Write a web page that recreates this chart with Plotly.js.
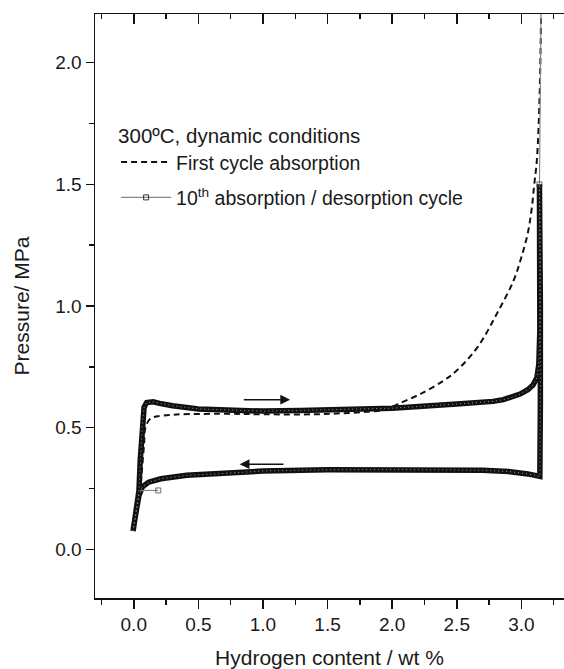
<!DOCTYPE html>
<html>
<head>
<meta charset="utf-8">
<script src="https://cdn.plot.ly/plotly-3.0.1.min.js"></script>
<style>html,body{margin:0;padding:0;background:#fff;}#chart{width:564px;height:669px;}</style>
</head>
<body>
<div id="chart"></div>
<script>
// First cycle absorption (dashed)
var firstX = [0.02, 0.05, 0.065, 0.08, 0.09, 0.13, 0.23, 0.67, 1.0, 1.4, 1.6, 1.8, 1.94, 2.04, 2.22, 2.40, 2.50, 2.66, 2.81, 2.94, 3.0, 3.05, 3.08, 3.10, 3.12, 3.14, 3.155];
var firstY = [0.15, 0.25, 0.338, 0.434, 0.50, 0.537, 0.55, 0.557, 0.555, 0.555, 0.559, 0.565, 0.573, 0.596, 0.639, 0.694, 0.735, 0.83, 0.968, 1.105, 1.2, 1.3, 1.4, 1.5, 1.6, 1.84, 2.3];

// 10th absorption / desorption cycle (dense markers -> thick band)
var cycX = [-0.005, 0.0, 0.013, 0.04, 0.05, 0.065, 0.08, 0.1, 0.15, 0.2, 0.3, 0.5, 0.8, 1.0, 1.29, 1.5, 2.0, 2.5, 2.68, 2.78, 2.86, 2.93, 2.99, 3.05, 3.09, 3.12, 3.135, 3.143, 3.145, 3.14,
            3.145, 3.147, 3.147, 3.143, 3.05, 2.9, 2.7, 2.0, 1.5, 1.0, 0.67, 0.41, 0.21, 0.115, 0.065, 0.04, 0.02, 0.0, -0.005];
var cycY = [0.075, 0.09, 0.13, 0.24, 0.365, 0.50, 0.585, 0.603, 0.606, 0.6, 0.59, 0.577, 0.57, 0.568, 0.571, 0.573, 0.58, 0.597, 0.603, 0.608, 0.615, 0.625, 0.638, 0.656, 0.675, 0.705, 0.76, 0.9, 1.2, 1.5,
            1.45, 1.0, 0.6, 0.30, 0.31, 0.32, 0.325, 0.328, 0.327, 0.322, 0.311, 0.304, 0.29, 0.276, 0.256, 0.22, 0.16, 0.107, 0.08];

// thin connecting segments of the 10th cycle (grey line)
var thinX = [3.14, 3.155, null, 0.05, 0.19];
var thinY = [1.5, 2.4, null, 0.242, 0.242];
var thinSize = [5, 0, 0, 0, 5];

var legendTitle = '300ºC, dynamic conditions';
var nameFirst = 'First cycle absorption';
var nameTenth = '10<sup>th</sup> absorption / desorption cycle';

var fontFam = '"Liberation Sans", Arial, sans-serif';
var ink = '#1a1a1a';

var traces = [
  {x: firstX, y: firstY, mode: 'lines', name: nameFirst, legendgroup: 'a',
   line: {color: '#111', width: 2, dash: '6px,4px', shape: 'spline', smoothing: 1}},
  {x: cycX, y: cycY, mode: 'lines', showlegend: false,
   line: {color: '#111', width: 5.5}},
  {x: cycX, y: cycY, mode: 'lines', showlegend: false,
   line: {color: '#9a9a9a', width: 1, dash: '1px,3px'}},
  {x: thinX, y: thinY, mode: 'lines+markers', showlegend: false,
   line: {color: '#888', width: 1.2},
   marker: {symbol: 'square-open', size: thinSize, color: '#333', line: {width: 1}}},
  {x: [null], y: [null], xaxis: 'x2', mode: 'lines+markers', name: nameTenth, legendgroup: 'b',
   line: {color: '#888', width: 1.2},
   marker: {symbol: 'square-open', size: 5, color: '#333', line: {width: 1}}}
];

var xr = [-0.3, 3.33];
var layout = {
  width: 564, height: 669,
  margin: {l: 95, r: 0, t: 14, b: 71},
  paper_bgcolor: '#fff', plot_bgcolor: '#fff',
  font: {family: fontFam, color: ink, size: 19},
  showlegend: true,
  legend: {
    x: 0.045, xanchor: 'left', y: 0.825, yanchor: 'top',
    bgcolor: 'rgba(0,0,0,0)', borderwidth: 0,
    font: {family: fontFam, size: 19.5, color: ink},
    title: {text: legendTitle, font: {family: fontFam, size: 20.5, color: ink}},
    itemwidth: 50, traceorder: 'grouped', tracegroupgap: 7
  },
  xaxis: {
    range: xr, showline: true, linecolor: '#111', linewidth: 1.5,
    ticks: 'outside', ticklen: 9, tickwidth: 1.5, tickcolor: '#111',
    tick0: 0, dtick: 0.5, tickformat: '.1f',
    minor: {ticks: 'outside', ticklen: 5, tickwidth: 1.5, tickcolor: '#111', dtick: 0.25, showgrid: false},
    showgrid: false, zeroline: false,
    tickfont: {size: 19, family: fontFam, color: ink},
    title: {text: 'Hydrogen content / wt %', font: {size: 21, family: fontFam, color: ink}, standoff: 16}
  },
  xaxis2: {
    range: xr, overlaying: 'x', anchor: 'y', side: 'top',
    showline: true, linecolor: '#111', linewidth: 1.5,
    ticks: 'inside', ticklen: 10, tickwidth: 1.5, tickcolor: '#111',
    tick0: 0, dtick: 0.5, showticklabels: false,
    minor: {ticks: 'inside', ticklen: 5, tickwidth: 1.5, tickcolor: '#111', dtick: 0.25, showgrid: false},
    showgrid: false, zeroline: false
  },
  yaxis: {
    range: [-0.2, 2.2], showline: true, linecolor: '#111', linewidth: 1.5,
    ticks: 'outside', ticklen: 8, tickwidth: 1.5, tickcolor: '#111',
    tick0: 0, dtick: 0.5, tickformat: '.1f',
    minor: {ticks: 'outside', ticklen: 5, tickwidth: 1.5, tickcolor: '#111', dtick: 0.25, showgrid: false},
    showgrid: false, zeroline: false,
    tickfont: {size: 19, family: fontFam, color: ink},
    title: {text: 'Pressure/ MPa', font: {size: 21, family: fontFam, color: ink}, standoff: 20}
  },
  annotations: [
    {x: 1.21, y: 0.615, ax: 0.84, ay: 0.615, xref: 'x', yref: 'y', axref: 'x', ayref: 'y',
     text: '', showarrow: true, arrowhead: 2, arrowsize: 1.3, arrowwidth: 1.5, arrowcolor: '#111'},
    {x: 0.82, y: 0.35, ax: 1.17, ay: 0.35, xref: 'x', yref: 'y', axref: 'x', ayref: 'y',
     text: '', showarrow: true, arrowhead: 2, arrowsize: 1.3, arrowwidth: 1.5, arrowcolor: '#111'}
  ]
};

Plotly.newPlot('chart', traces, layout, {staticPlot: true, displayModeBar: false});
</script>
</body>
</html>
